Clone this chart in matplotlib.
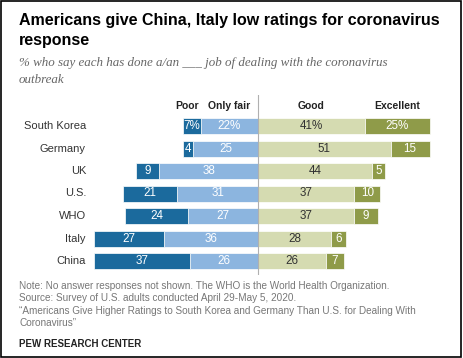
import matplotlib
matplotlib.use("Agg")
import matplotlib.pyplot as plt
import numpy as np
from matplotlib.patches import Rectangle

# data
countries = ["South Korea", "Germany", "UK", "U.S.", "WHO", "Italy", "China"]
poor = [7, 4, 9, 21, 24, 27, 37]
only_fair = [22, 25, 38, 31, 27, 36, 26]
good = [41, 51, 44, 37, 37, 28, 26]
excellent = [25, 15, 5, 10, 9, 6, 7]
categories = ["Poor", "Only fair", "Good", "Excellent"]

C_POOR = "#1b6a9d"
C_FAIR = "#8cb5df"
C_GOOD = "#d5dbb1"
C_EXC = "#8f9b49"

W, H = 463, 358
plt.rcParams["font.family"] = ["Liberation Sans", "DejaVu Sans"]
fig = plt.figure(figsize=(W / 100, H / 100), dpi=100)

# pixel layout helpers
px_per_unit = 2.6
center_px = 258
row0_px, row_step = 126, 22.5
ax_top, ax_bot = 95, 275
ax = fig.add_axes([0, 1 - ax_bot / H, 1, (ax_bot - ax_top) / H])
ax.set_xlim(-center_px / px_per_unit, (W - center_px) / px_per_unit)
ax.set_ylim((ax_bot - row0_px) / row_step, (ax_top - row0_px) / row_step)
ax.axis("off")

y = np.arange(len(countries))
poor_a = np.array(poor)
fair_a = np.array(only_fair)
good_a = np.array(good)
exc_a = np.array(excellent)
bh = 16 / row_step

ax.barh(y, -fair_a, height=bh, color=C_FAIR, edgecolor="white", linewidth=0.5)
ax.barh(y, -poor_a, left=-fair_a, height=bh, color=C_POOR, edgecolor="white", linewidth=0.5)
ax.barh(y, good_a, height=bh, color=C_GOOD, edgecolor="white", linewidth=0.5)
ax.barh(y, exc_a, left=good_a, height=bh, color=C_EXC, edgecolor="white", linewidth=0.5)
ax.axvline(0, color="#b0b0b0", linewidth=0.8, zorder=3)

fs = 8.4
for i in range(len(countries)):
    suf = "%" if i == 0 else ""
    ax.text(-fair_a[i] - poor_a[i] / 2, i, f"{poor[i]}{suf}", ha="center", va="center",
            color="white", fontsize=fs)
    ax.text(-fair_a[i] / 2, i, f"{only_fair[i]}{suf}", ha="center", va="center",
            color="white", fontsize=fs)
    ax.text(good_a[i] / 2, i, f"{good[i]}{suf}", ha="center", va="center",
            color="#333333", fontsize=fs)
    ax.text(good_a[i] + exc_a[i] / 2, i, f"{excellent[i]}{suf}", ha="center", va="center",
            color="white", fontsize=fs)
    ax.text((86 - center_px) / px_per_unit, i, countries[i], ha="right", va="center",
            color="#333333", fontsize=8)

hy = (106 - row0_px) / row_step
ax.text(-fair_a[0] - 0.8, hy, categories[0], ha="right", va="center",
        fontsize=7.5, fontweight="bold", color="#222222")
ax.text(-fair_a[0] / 2, hy, categories[1], ha="center", va="center",
        fontsize=7.5, fontweight="bold", color="#222222")
ax.text(good_a[0] / 2, hy, categories[2], ha="center", va="center",
        fontsize=7.5, fontweight="bold", color="#222222")
ax.text(good_a[0] + exc_a[0] / 2, hy, categories[3], ha="center", va="center",
        fontsize=7.5, fontweight="bold", color="#222222")


def ftext(xp, yp, s, **kw):
    fig.text(xp / W, 1 - yp / H, s, va="center", ha="left", **kw)


ftext(19, 21, "Americans give China, Italy low ratings for coronavirus",
      fontsize=11.5, fontweight="bold", color="black")
ftext(19, 40, "response", fontsize=11.5, fontweight="bold", color="black")
ftext(19, 63, "% who say each has done a/an ___ job of dealing with the coronavirus",
      fontsize=9.4, style="italic", family="Liberation Serif", color="#666666")
ftext(19, 80, "outbreak", fontsize=9.4, style="italic", family="Liberation Serif",
      color="#666666")

foot = [
    "Note: No answer responses not shown. The WHO is the World Health Organization.",
    "Source: Survey of U.S. adults conducted April 29-May 5, 2020.",
    "\u201cAmericans Give Higher Ratings to South Korea and Germany Than U.S. for Dealing With",
    "Coronavirus\u201d",
]
for k, line in enumerate(foot):
    ftext(19, 286 + 12.4 * k, line, fontsize=7.2, color="#777777")
ftext(19, 344, "PEW RESEARCH CENTER", fontsize=7, fontweight="bold", color="#222222")

fig.add_artist(Rectangle((0.002, 0.004), 0.994, 0.992, transform=fig.transFigure,
                         fill=False, edgecolor="black", linewidth=1.2))

fig.savefig("out.png", dpi=100, facecolor="white")
